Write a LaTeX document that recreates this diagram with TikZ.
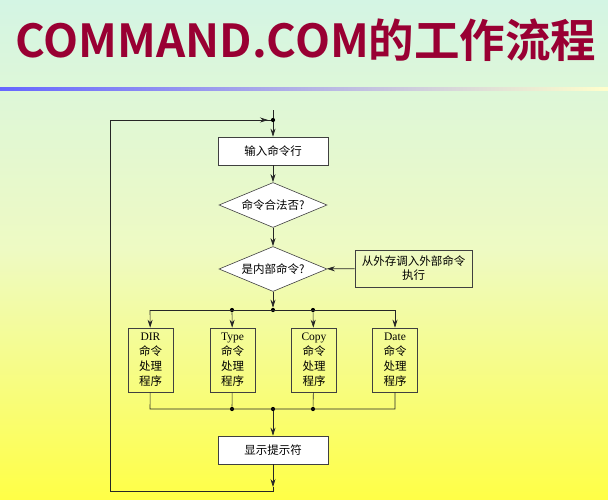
\documentclass[tikz,border=0pt]{standalone}
\usepackage{fontspec}
\setmainfont{Liberation Serif}
\newfontfamily\cjk{Noto Sans CJK SC}
\newfontfamily\cjkb{Noto Sans CJK SC Bold}
\usetikzlibrary{shapes.geometric,arrows.meta}
\definecolor{topc}{RGB}{212,245,228}
\definecolor{midc}{RGB}{238,250,195}
\definecolor{botc}{RGB}{255,255,70}
\definecolor{titlec}{RGB}{153,0,51}
\tikzset{
  x=1pt,y=-1pt,
  box/.style={draw=black!75,fill=white,line width=0.6pt,minimum width=110pt,minimum height=28pt,font=\cjk\fontsize{11.5}{13}\selectfont},
  dia/.style={diamond,aspect=2.4,draw=black!75,fill=white,line width=0.6pt,minimum width=108pt,minimum height=45pt,inner sep=0pt,font=\cjk\fontsize{11.5}{13}\selectfont},
  proc/.style={draw=black!75,line width=0.6pt,minimum width=45pt,minimum height=64pt,inner sep=1pt,align=center,font=\cjk\fontsize{11.5}{15}\selectfont},
  ext/.style={draw=black!75,line width=0.6pt,minimum width=117pt,minimum height=37pt,inner sep=1pt,align=center,font=\cjk\fontsize{11.5}{14}\selectfont},
  ln/.style={line width=0.6pt,draw=black!85},
  arr/.style={ln,-{Stealth[length=8pt,width=5pt]}},
  dot/.style={circle,fill=black,inner sep=0pt,minimum size=4.2pt}
}
\begin{document}
\begin{tikzpicture}
\useasboundingbox (0,0) rectangle (608,499);
\shade[top color=topc,bottom color=botc,middle color=midc] (0,0) rectangle (608,499);
\shade[left color=blue!60,right color=yellow!20] (0,87) rectangle (608,90);
\node[font=\cjkb\fontsize{45.5}{46}\selectfont,text=titlec] (title) at (306,40) {COMMAND.COM的工作流程};
% nodes
\node[dot] (top) at (273,120) {};
\coordinate (stub) at (273,110);
\node[box] (in) at (273,151) {输入命令行};
\node[dia] (d1) at (273,205) {命令合法否?};
\node[dia] (d2) at (273,269) {是内部命令?};
\node[ext] (ex) at (413.5,268.5) {从外存调入外部命令\\执行};
\node[dot] (s0) at (273,310) {};
\node[dot] (s1) at (232,310) {};
\node[dot] (s2) at (313,310) {};
\coordinate (sl) at (150,310);
\coordinate (sr) at (395,310);
\node[proc] (p1) at (150.5,360) {\rmfamily DIR\\命令\\处理\\程序};
\node[proc] (p2) at (232.5,360) {\rmfamily Type\\命令\\处理\\程序};
\node[proc] (p3) at (314,360) {\rmfamily Copy\\命令\\处理\\程序};
\node[proc] (p4) at (395,360) {\rmfamily Date\\命令\\处理\\程序};
\node[dot] (m0) at (273,409) {};
\node[dot] (m1) at (232,409) {};
\node[dot] (m2) at (313,409) {};
\coordinate (ml) at (150,409);
\coordinate (mr) at (395,409);
\node[box] (disp) at (273,450) {显示提示符};
\coordinate (b1) at (273,491);
\coordinate (b0) at (110,491);
\coordinate (t0) at (110,120);
% connectors
\draw[ln] (stub) -- (top);
\draw[arr] (top) -- (in);
\draw[arr] (in) -- (d1);
\draw[arr] (d1) -- (d2);
\draw[arr] (ex) -- (d2);
\draw[arr] (d2) -- (s0);
\draw[ln] (sl) -- (sr);
\draw[arr] (sl) -- (p1);
\draw[arr] (s1) -- (p2);
\draw[arr] (s2) -- (p3);
\draw[arr] (sr) -- (p4);
\draw[ln] (p1) -- (ml) -- (mr) -- (p4);
\draw[ln] (p2) -- (m1);
\draw[ln] (p3) -- (m2);
\draw[arr] (m0) -- (disp);
\draw[arr] (disp) -- (273,487);
\draw[ln] (273,487) -- (b1) -- (b0) -- (t0) -- (top);
\draw[arr] (t0) -- (268,120);
\end{tikzpicture}
\end{document}
